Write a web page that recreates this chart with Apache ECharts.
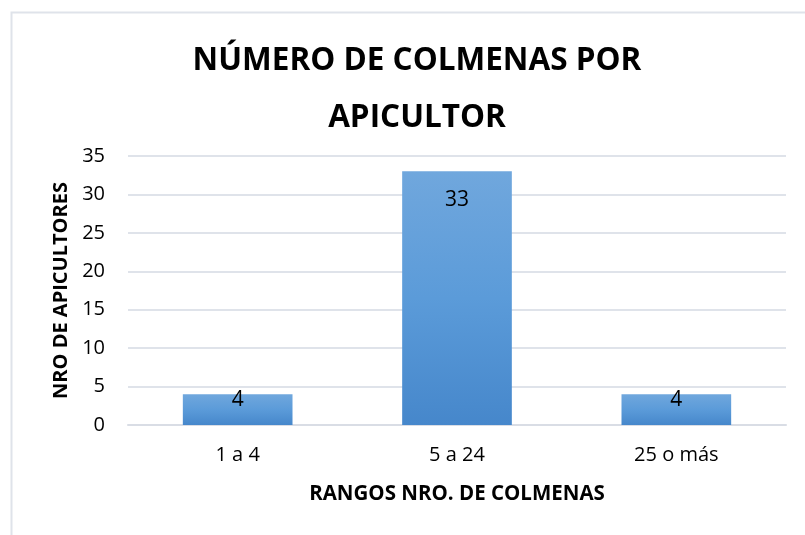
<!DOCTYPE html>
<html>
<head>
<meta charset="utf-8">
<script src="https://cdn.jsdelivr.net/npm/echarts@6/dist/echarts.min.js"></script>
<style>
  html, body { margin: 0; padding: 0; background: #fff; }
  #bar { width: 805px; height: 535px; }
</style>
</head>
<body>
<div id="bar"></div>
<script>
let categories = ['1 a 4', '5 a 24', '25 o más']
let values = [4, 33, 4]
let yTicks = [0, 35, 5] // min, max, step

let chart = echarts.init(document.getElementById('bar'))
let font = 'Open Sans'

chart.setOption({
  animation: false,
  graphic: [{
    type: 'rect',
    shape: { x: 11.5, y: 12.5, width: 820, height: 560 },
    style: { fill: 'none', stroke: '#dfe3ea', lineWidth: 2 }
  }],
  title: {
    text: 'NÚMERO DE COLMENAS POR\nAPICULTOR',
    left: 412,
    top: 28,
    textAlign: 'center',
    textStyle: {
      fontFamily: font,
      fontWeight: 'bold',
      fontSize: 31.5,
      lineHeight: 57,
      color: '#000'
    }
  },
  grid: { left: 128, right: 19, top: 156, bottom: 110 },
  xAxis: {
    type: 'category',
    data: categories,
    name: 'RANGOS NRO. DE COLMENAS',
    nameLocation: 'middle',
    nameGap: 59,
    nameTextStyle: { fontFamily: font, fontWeight: 'bold', fontSize: 20.5, color: '#000' },
    axisLine: { lineStyle: { color: '#d9dde5', width: 2 } },
    axisTick: { show: false },
    axisLabel: { fontFamily: font, fontSize: 20, color: '#000', margin: 20 }
  },
  yAxis: {
    type: 'value',
    min: yTicks[0],
    max: yTicks[1],
    interval: yTicks[2],
    name: 'NRO DE APICULTORES',
    nameLocation: 'middle',
    nameGap: 55,
    nameTextStyle: { fontFamily: font, fontWeight: 'bold', fontSize: 20, color: '#000' },
    axisLine: { show: false },
    axisTick: { show: false },
    axisLabel: { fontFamily: font, fontSize: 20, color: '#000', margin: 23 },
    splitLine: { lineStyle: { color: '#dfe3ea', width: 2 } }
  },
  series: [{
    type: 'bar',
    barWidth: '50%',
    data: values.map(v => ({
      value: v,
      label: { distance: v > 10 ? 18 : -5 }
    })),
    itemStyle: {
      color: new echarts.graphic.LinearGradient(0, 0, 0, 1, [
        { offset: 0, color: '#70a7dd' },
        { offset: 0.5, color: '#5b9bd9' },
        { offset: 1, color: '#4687cb' }
      ])
    },
    label: {
      show: true,
      position: 'insideTop',
      fontFamily: font,
      fontSize: 21,
      color: '#000'
    }
  }]
})
</script>
</body>
</html>
